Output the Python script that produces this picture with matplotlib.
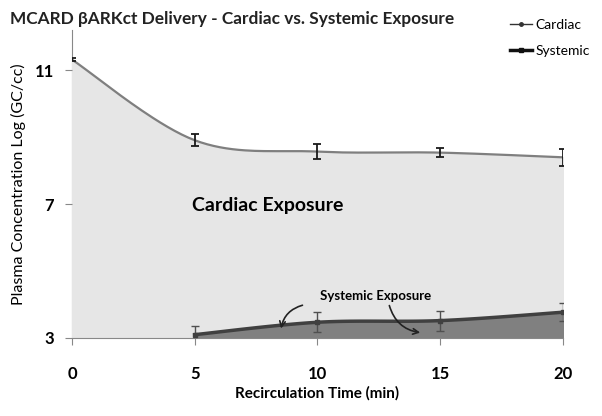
import numpy as np
import matplotlib.pyplot as plt
from matplotlib.lines import Line2D

plt.rcParams['font.family'] = ['Lato', 'DejaVu Sans']

times = [0, 5, 10, 15, 20]
cardiac = [11.32, 8.91, 8.57, 8.54, 8.40]
cardiac_err = [0.05, 0.18, 0.22, 0.13, 0.25]
sys_times = [5, 10, 15, 20]
systemic = [3.10, 3.47, 3.52, 3.77]
systemic_err = [0.25, 0.30, 0.30, 0.27]


def smooth(x, y, n=40):
    # Excel-style smoothed line: cubic bezier, control points from neighbours
    x = np.asarray(x, float)
    y = np.asarray(y, float)
    px = np.concatenate([[x[0]], x, [x[-1]]])
    py = np.concatenate([[y[0]], y, [y[-1]]])
    t = np.linspace(0, 1, n)
    xs, ys = [], []
    for i in range(1, len(px) - 2):
        p0 = np.array([px[i], py[i]])
        p3 = np.array([px[i + 1], py[i + 1]])
        c1 = p0 + (np.array([px[i + 1], py[i + 1]]) - np.array([px[i - 1], py[i - 1]])) / 6
        c2 = p3 - (np.array([px[i + 2], py[i + 2]]) - np.array([px[i], py[i]])) / 6
        b = ((1 - t) ** 3)[:, None] * p0 + (3 * (1 - t) ** 2 * t)[:, None] * c1 \
            + (3 * (1 - t) * t ** 2)[:, None] * c2 + (t ** 3)[:, None] * p3
        xs.append(b[:, 0])
        ys.append(b[:, 1])
    return np.concatenate(xs), np.concatenate(ys)


fig = plt.figure(figsize=(6.02, 4.16), dpi=100)
ax = fig.add_axes([0.1196, 0.1875, 0.8154, 0.74])

ymin = 3
cx, cy = smooth(times, cardiac)
sx, sy = smooth(sys_times, systemic)

ax.fill_between(cx, ymin, cy, color='#e6e6e6', zorder=1)
ax.fill_between(sx, ymin, sy, color='#808080', zorder=2)
ax.plot(cx, cy, color='#7f7f7f', lw=1.6, zorder=3)
ax.plot(sx, sy, color='#404040', lw=2.5, zorder=3)

ax.errorbar(times, cardiac, yerr=cardiac_err, fmt='none', ecolor='#1a1a1a',
            elinewidth=1.3, capsize=3, capthick=1.3, zorder=4)
ax.errorbar(sys_times, systemic, yerr=systemic_err, fmt='none', ecolor='#505050',
            elinewidth=1.0, capsize=3, capthick=1.0, zorder=4)
ax.plot(sys_times, systemic, 's', ms=3, color='#404040', zorder=5)

ax.set_xlim(0, 20)
ax.set_ylim(3, 12.2)
ax.set_xticks([0, 5, 10, 15, 20])
ax.set_yticks([3, 7, 11])
ax.tick_params(axis='x', length=5, pad=15, colors='#888888', labelcolor='black',
               labelsize=12)
ax.tick_params(axis='y', length=5, pad=8, colors='#888888', labelcolor='black',
               labelsize=12)
for lab in ax.get_xticklabels() + ax.get_yticklabels():
    lab.set_fontweight('bold')
for s in ['top', 'right']:
    ax.spines[s].set_visible(False)
for s in ['left', 'bottom']:
    ax.spines[s].set_color('#888888')
ax.spines['left'].set_zorder(0)

ax.set_xlabel('Recirculation Time (min)', fontsize=11, fontweight='bold', labelpad=3)
ax.set_ylabel('Plasma Concentration Log (GC/cc)', fontsize=11.5, labelpad=6)

fig.text(0.017, 0.955, 'MCARD βARKct Delivery - Cardiac vs. Systemic Exposure',
         fontsize=12.4, fontweight='bold', color='#222222', va='center')

ax.text(4.9, 6.95, 'Cardiac Exposure', fontsize=14, fontweight='bold', va='center')
ax.text(10.1, 4.27, 'Systemic Exposure', fontsize=9.5, fontweight='bold', va='center')
ax.annotate('', xy=(8.5, 3.2), xytext=(9.5, 4.0),
            arrowprops=dict(arrowstyle='->', color='#222222', lw=1.2,
                            connectionstyle='arc3,rad=0.35'))
ax.annotate('', xy=(14.3, 3.15), xytext=(12.9, 4.05),
            arrowprops=dict(arrowstyle='->', color='#222222', lw=1.2,
                            connectionstyle='arc3,rad=0.35'))

handles = [Line2D([], [], color='#333333', lw=1, marker='o', ms=2.5),
           Line2D([], [], color='#111111', lw=2.5, marker='s', ms=3.5)]
fig.legend(handles, ['Cardiac', 'Systemic'], loc='upper right',
           bbox_to_anchor=(1.0, 0.985), frameon=False, fontsize=10,
           handlelength=1.6, handletextpad=0.2, labelspacing=1.0)

fig.savefig('out.png', dpi=100)
